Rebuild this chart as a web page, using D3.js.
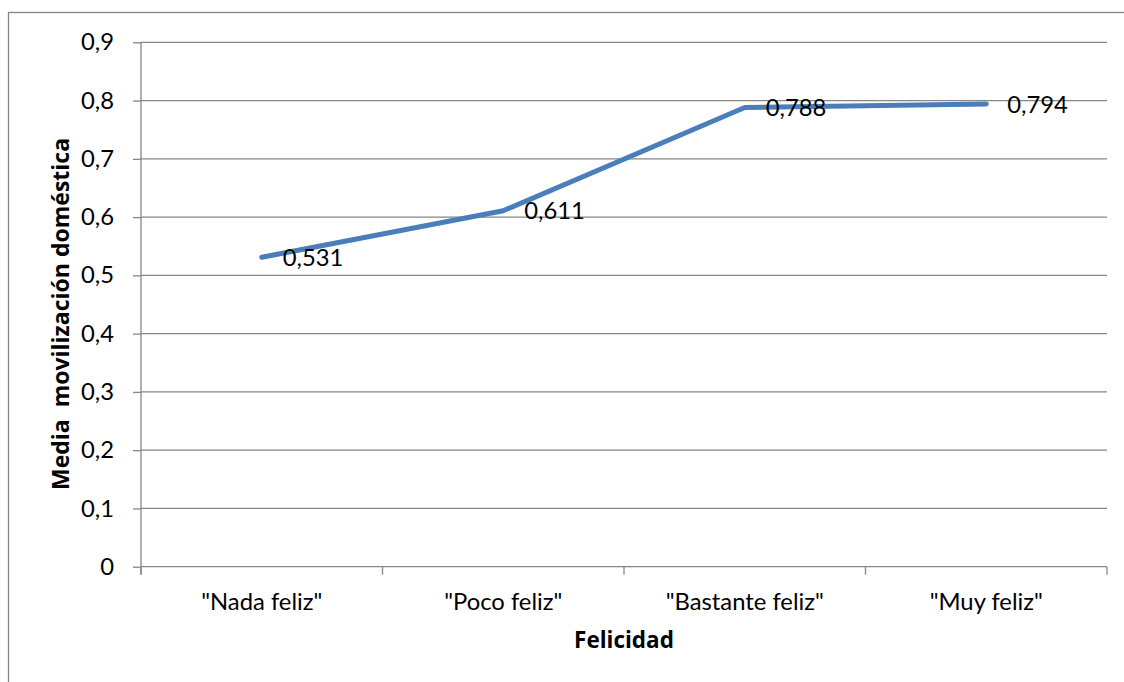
<!DOCTYPE html>
<html><head><meta charset="utf-8">
<script src="https://cdn.jsdelivr.net/npm/d3@7"></script>
<style>body{margin:0;background:#fff}svg{display:block}text{font-family:Lato,"Open Sans",sans-serif}</style>
</head><body>
<svg id="c" width="1124" height="682"></svg>
<script>
const categories = ['"Nada feliz"', '"Poco feliz"', '"Bastante feliz"', '"Muy feliz"'];
const values = [0.531, 0.611, 0.788, 0.794];
const labels = ["0,531", "0,611", "0,788", "0,794"];
const yTicks = [0, 0.1, 0.2, 0.3, 0.4, 0.5, 0.6, 0.7, 0.8, 0.9];
const yTickLabels = ["0", "0,1", "0,2", "0,3", "0,4", "0,5", "0,6", "0,7", "0,8", "0,9"];
const xTitle = "Felicidad";
const yTitle = "Media  movilización doméstica";

const svg = d3.select("#c");
const L = 141, R = 1107, T = 42.3, B = 566.7;
const grey = "#868686";
const FS = 23.8;

svg.append("rect").attr("x", 8.5).attr("y", 12.5).attr("width", 1130).attr("height", 700)
  .attr("fill", "none").attr("stroke", grey).attr("stroke-width", 1.3);

const x = d3.scaleBand().domain(categories).range([L, R]).padding(0);
const y = d3.scaleLinear().domain([0, 0.9]).range([B, T]);

// gridlines
svg.append("g").selectAll("line").data(yTicks.filter(d => d > 0)).join("line")
  .attr("x1", L).attr("x2", R).attr("y1", d => y(d)).attr("y2", d => y(d))
  .attr("stroke", grey).attr("stroke-width", 1.3);

// y axis
const yAxis = d3.axisLeft(y).tickValues(yTicks).tickSize(8).tickPadding(19)
  .tickFormat((d, i) => yTickLabels[i]);
const gy = svg.append("g").attr("transform", `translate(${L},0)`).call(yAxis);
gy.select(".domain").attr("stroke", grey).attr("stroke-width", 1.3).attr("d", `M0,${B+8}V${T}`);
gy.selectAll(".tick line").attr("stroke", grey).attr("stroke-width", 1.3);
gy.selectAll(".tick text").attr("font-size", FS).attr("fill", "#000").style("font-family", "Lato");

// x axis
const gx = svg.append("g").attr("transform", `translate(0,${B})`);
gx.append("line").attr("x1", L).attr("x2", R).attr("y1", 0).attr("y2", 0)
  .attr("stroke", grey).attr("stroke-width", 1.3);
const bounds = categories.map(c => x(c)).concat([R]);
gx.selectAll("line.t").data(bounds).join("line").attr("class", "t")
  .attr("x1", d => d).attr("x2", d => d).attr("y1", 0).attr("y2", 8)
  .attr("stroke", grey).attr("stroke-width", 1.3);
gx.selectAll("text").data(categories).join("text")
  .attr("x", d => x(d) + x.bandwidth() / 2).attr("y", 43)
  .attr("text-anchor", "middle").attr("font-size", FS).attr("fill", "#000").text(d => d);

// line
const cx = (d, i) => x(categories[i]) + x.bandwidth() / 2;
const line = d3.line().x((d, i) => cx(d, i)).y(d => y(d));
svg.append("path").datum(values).attr("d", line).attr("fill", "none")
  .attr("stroke", "#4a7ebb").attr("stroke-width", 5).attr("stroke-linecap", "round").attr("stroke-linejoin", "round");

// data labels
svg.append("g").selectAll("text").data(values).join("text")
  .attr("x", (d, i) => cx(d, i) + 21).attr("y", d => y(d) + 8.5)
  .attr("font-size", FS).attr("fill", "#000").text((d, i) => labels[i]);

// titles
svg.append("text").attr("x", 624).attr("y", 648).attr("text-anchor", "middle")
  .style("font-family", "'Open Sans'").style("font-size", "22.5px").style("font-weight", "bold").attr("fill", "#000").text(xTitle);
svg.append("text").attr("transform", "translate(69,314) rotate(-90)").attr("text-anchor", "middle")
  .style("font-family", "'Open Sans'").style("font-size", "23px").style("font-weight", "bold").attr("fill", "#000")
  .style("white-space", "pre").text(yTitle);
</script>
</body></html>
